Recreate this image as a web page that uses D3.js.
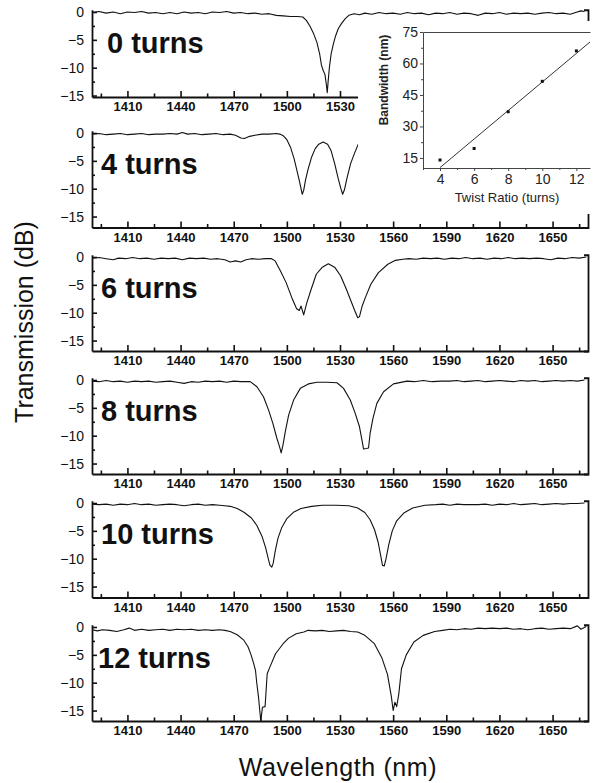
<!DOCTYPE html>
<html>
<head>
<meta charset="utf-8">
<script src="https://cdn.jsdelivr.net/npm/d3@7"></script>
<style>
  body { margin: 0; background: #fff; }
  svg { display: block; font-family: 'Liberation Sans', Arial, sans-serif; }
</style>
</head>
<body>
<svg id="chart" width="594" height="783"></svg>
<script>
// 1 Data
const turnLabels = ['0 turns', '4 turns', '6 turns', '8 turns', '10 turns', '12 turns'];

// [wavelength nm, transmission dB]
const spectrum0 = [[1390,-0.1],[1394,0.1],[1398,-0.2],[1402,0],[1406,-0.3],[1410,0],[1414,-0.1],[1418,0.1],[1422,-0.2],[1426,-0.1],[1430,-0.3],[1434,-0.1],[1438,-0.3],[1442,0],[1446,-0.2],[1450,-0.1],[1454,-0.3],[1458,0],[1462,-0.1],[1466,0.1],[1470,-0.2],[1474,-0.1],[1478,-0.3],[1482,-0.2],[1486,-0.4],[1490,-0.3],[1494,-0.6],[1498,-0.7],[1502,-0.8],[1506,-0.8],[1509,-0.9],[1511,-1.5],[1513,-2.5],[1515,-3.8],[1517,-5.5],[1518.5,-7.5],[1519.5,-9.5],[1520.5,-10.5],[1521.5,-11.2],[1522.3,-13],[1522.8,-14.5],[1523.3,-12.5],[1524,-10],[1525,-7.5],[1526.2,-5.8],[1527.5,-4.3],[1529,-3],[1531,-2],[1533,-1.2],[1535,-0.6],[1538,-0.3],[1541,-0.5],[1544,-0.2],[1548,-0.4],[1552,-0.1],[1556,-0.3],[1560,-0.2],[1564,-0.4],[1568,-0.1],[1572,-0.3],[1576,-0.2],[1580,-0.5],[1584,-0.2],[1588,-0.3],[1592,-0.1],[1596,-0.4],[1600,-0.2],[1604,-0.3],[1608,-0.6],[1612,-0.2],[1616,-0.3],[1620,-0.1],[1624,-0.4],[1628,-0.2],[1632,-0.3],[1636,-0.2],[1640,-0.4],[1644,-0.2],[1648,-0.1],[1652,-0.3],[1656,-0.2],[1660,-0.4],[1663,-0.1],[1666,0.2],[1668,0.1]];
const spectrum4 = [[1390,-0.2],[1394,-0.1],[1398,-0.3],[1402,-0.2],[1406,-0.1],[1410,-0.3],[1414,-0.2],[1418,-0.1],[1422,-0.3],[1426,-0.2],[1430,-0.2],[1434,-0.1],[1438,-0.2],[1441,0.1],[1444,-0.2],[1448,-0.1],[1452,-0.3],[1456,-0.2],[1460,-0.1],[1464,-0.3],[1468,-0.2],[1471,-0.4],[1474,-0.9],[1476,-1.0],[1479,-0.6],[1482,-0.4],[1486,-0.2],[1490,-0.2],[1494,-0.1],[1496,-0.2],[1498,-0.5],[1500,-1.2],[1502,-2.5],[1504,-4.5],[1505.5,-6.5],[1507,-8.5],[1508,-10],[1508.7,-11],[1509.5,-10.3],[1510.5,-8.5],[1512,-6.5],[1514,-4.3],[1516,-2.8],[1518,-2],[1520.5,-1.6],[1523,-2],[1525,-3.2],[1527,-5.5],[1529,-8.2],[1530.5,-10],[1531.5,-11],[1532.5,-10.2],[1534,-8],[1536,-5.5],[1538,-3.8],[1540.3,-2]];
const spectrum6 = [[1390,-0.2],[1394,-0.1],[1398,-0.3],[1402,-0.5],[1405,-0.2],[1409,-0.3],[1413,-0.1],[1417,-0.3],[1421,-0.2],[1425,-0.4],[1429,-0.2],[1433,-0.3],[1437,-0.2],[1441,-0.5],[1445,-0.2],[1449,-0.3],[1453,-0.2],[1457,-0.4],[1461,-0.3],[1465,-0.5],[1468,-0.9],[1471,-0.7],[1474,-0.9],[1477,-0.5],[1480,-0.3],[1484,-0.4],[1488,-0.3],[1491.3,-0.3],[1493.4,-0.7],[1496.4,-2.5],[1499.6,-4.6],[1502.8,-7.3],[1505.5,-9.3],[1507,-9.6],[1508,-8.8],[1509.5,-10.4],[1511.3,-8.2],[1513.4,-6.1],[1516.6,-3.1],[1519.8,-1.9],[1523.4,-1.2],[1527.2,-1.9],[1530.4,-3.4],[1533.6,-5.8],[1536.2,-7.9],[1538.3,-9.6],[1540,-10.9],[1541,-10.7],[1542.5,-8.8],[1544.3,-7.3],[1547.4,-4.9],[1551.7,-2.8],[1557,-1.3],[1561.3,-0.6],[1565.5,-0.4],[1569,-0.3],[1573,-0.4],[1577,-0.2],[1581,-0.3],[1585,-0.2],[1589,-0.4],[1593,-0.2],[1597,-0.3],[1601,-0.1],[1605,-0.3],[1609,-0.2],[1613,-0.4],[1617,-0.2],[1621,-0.3],[1625,-0.1],[1629,-0.3],[1633,-0.2],[1637,-0.3],[1641,-0.2],[1645,-0.3],[1649,-0.5],[1653,-0.2],[1657,-0.3],[1661,-0.1],[1665,-0.2],[1669,0]];
const spectrum8 = [[1390,-0.2],[1394,-0.3],[1398,-0.1],[1402,-0.3],[1406,-0.2],[1410,-0.4],[1414,-0.2],[1418,-0.3],[1422,-0.2],[1426,-0.4],[1430,-0.3],[1434,-0.2],[1438,-0.4],[1442,-0.6],[1446,-0.3],[1450,-0.4],[1454,-0.2],[1458,-0.3],[1462,-0.2],[1466,-0.4],[1470,-0.2],[1474,-0.3],[1479.3,-0.3],[1483.1,-1.2],[1486.8,-3],[1489.7,-5.4],[1492.1,-7.8],[1494.4,-10.5],[1495.9,-12],[1496.8,-13.1],[1497.8,-11.7],[1499.1,-9.3],[1501,-6.3],[1503.8,-3.6],[1507.6,-1.5],[1512.2,-0.7],[1517,-0.4],[1522.6,-0.4],[1528.3,-0.5],[1532,-1.5],[1535.8,-3.6],[1538.6,-6],[1541,-8.4],[1542.4,-10.8],[1543.3,-12.4],[1544.8,-12.3],[1546.1,-12.2],[1547,-9.6],[1548.6,-6.9],[1550.8,-4.2],[1554.6,-2.1],[1560.2,-0.7],[1567.8,-0.2],[1572,-0.3],[1577,-0.1],[1582,-0.3],[1587,-0.2],[1592,-0.2],[1596,-0.1],[1600,-0.3],[1604,-0.2],[1608,-0.1],[1612,-0.3],[1616,-0.2],[1620,-0.1],[1624,-0.2],[1628,-0.3],[1632,-0.1],[1636,-0.2],[1640,-0.1],[1644,-0.3],[1648,-0.2],[1652,-0.1],[1656,-0.2],[1660,-0.1],[1664,-0.2],[1668,0]];
const spectrum10 = [[1390,-0.2],[1394,-0.3],[1398,-0.2],[1402,-0.4],[1406,-0.2],[1410,-0.3],[1414,-0.1],[1418,-0.3],[1422,-0.2],[1426,-0.4],[1430,-0.3],[1434,-0.2],[1438,-0.3],[1442,-0.5],[1446,-0.3],[1450,-0.2],[1454,-0.4],[1458,-0.3],[1462,-0.4],[1465,-0.5],[1468,-0.6],[1472,-1],[1476,-1.7],[1480,-2.7],[1483,-4],[1486,-6],[1488,-8],[1489.5,-10],[1490.5,-11.2],[1491.5,-11.5],[1492.3,-10.8],[1493.5,-8.5],[1495,-6.3],[1497,-4.5],[1500,-2.8],[1504,-1.6],[1508,-1],[1514,-0.6],[1520,-0.4],[1528,-0.4],[1535,-0.5],[1540,-0.9],[1544,-1.7],[1547,-3],[1549.5,-4.8],[1551.5,-7],[1553,-9.5],[1554,-11.2],[1555,-11.3],[1556,-10],[1557.5,-7.5],[1559.5,-5],[1562,-3.2],[1566,-1.8],[1571,-0.9],[1578,-0.4],[1584,-0.3],[1588,-0.2],[1592,-0.4],[1596,-0.2],[1600,-0.3],[1604,-0.3],[1608,-0.3],[1612,-0.2],[1616,-0.4],[1620,-0.2],[1624,-0.3],[1628,-0.1],[1632,-0.3],[1636,-0.2],[1640,-0.1],[1644,-0.3],[1648,-0.2],[1652,-0.1],[1656,-0.2],[1660,-0.1],[1664,-0.1],[1668,0]];
const spectrum12 = [[1390,-0.5],[1393,-0.7],[1396,-0.5],[1400,-0.6],[1404,-0.8],[1408,-0.5],[1411,-0.2],[1414,-0.6],[1418,-0.4],[1422,-0.6],[1426,-0.5],[1430,-0.4],[1434,-0.6],[1438,-0.4],[1442,-0.5],[1446,-0.4],[1450,-0.6],[1454,-0.5],[1458,-0.6],[1462,-0.5],[1465,-0.6],[1468,-0.8],[1472,-1.4],[1475.5,-2.3],[1478,-3.5],[1479.8,-5],[1481.2,-6.5],[1482.3,-7.8],[1483,-10],[1484,-12.6],[1484.7,-15],[1485.3,-16.9],[1486.2,-14.4],[1487.7,-14.3],[1488.9,-8.4],[1490.4,-7.2],[1493.6,-4.8],[1497.9,-3],[1501,-2],[1505.3,-1.2],[1509.6,-0.9],[1512,-0.6],[1516,-0.7],[1520,-0.6],[1524,-0.8],[1528,-0.7],[1532,-0.6],[1536,-0.8],[1540,-0.9],[1544,-1.5],[1549.4,-3],[1553.6,-5.5],[1556.8,-8.5],[1559,-12.5],[1560,-15],[1561,-13.5],[1562,-14.3],[1563.2,-12],[1564.7,-7.5],[1567.4,-5],[1571.7,-2.7],[1577,-1.5],[1583.4,-0.8],[1588,-0.6],[1592,-0.4],[1596,-0.5],[1600,-0.3],[1604,-0.4],[1608,-0.2],[1612,-0.3],[1616,-0.2],[1620,-0.3],[1624,-0.2],[1628,-0.4],[1632,-0.3],[1636,-0.5],[1640,-0.3],[1644,-0.2],[1648,-0.4],[1652,-0.3],[1656,-0.2],[1660,-0.3],[1664,0.2],[1666,-0.4],[1669,0.1]];

const xTicks = [1410, 1440, 1470, 1500, 1530, 1560, 1590, 1620, 1650];
const xMinorTicks = [1395, 1425, 1455, 1485, 1515, 1545, 1575, 1605, 1635, 1665];
const yTicks = [0, -5, -10, -15];
const yMinorTicks = [-2.5, -7.5, -12.5];

// inset: bandwidth vs twist ratio
const twistRatio = [4, 6, 8, 10, 12];
const bandwidth = [14, 19.5, 37, 51.5, 66];
const insetXTicks = [4, 6, 8, 10, 12];
const insetXMinor = [3, 5, 7, 9, 11];
const insetYTicks = [15, 30, 45, 60, 75];
const insetYMinor = [22.5, 37.5, 52.5, 67.5];

// 2 Layout
const left = 92;
const right = 588;
const pxPerDb = 5.57;
const panels = [
  { label: turnLabels[0], data: spectrum0, zero: 12, bottom: 97, labelX: 107 },
  { label: turnLabels[1], data: spectrum4, zero: 133, bottom: 227.5, labelX: 101 },
  { label: turnLabels[2], data: spectrum6, zero: 257, bottom: 351, labelX: 101 },
  { label: turnLabels[3], data: spectrum8, zero: 380, bottom: 474, labelX: 101 },
  { label: turnLabels[4], data: spectrum10, zero: 503, bottom: 597.5, labelX: 101 },
  { label: turnLabels[5], data: spectrum12, zero: 627, bottom: 721, labelX: 98 },
];

const svg = d3.select('#chart');
const fontFamily = "'Liberation Sans', Arial, sans-serif";

const xScale = d3.scaleLinear().domain([1390, 1670]).range([left, right]);

// 3 Draw each spectrum panel
panels.forEach((p) => {
  const yMin = -(p.bottom - p.zero) / pxPerDb;
  const yScale = d3.scaleLinear()
    .domain([yMin, 0.4])
    .range([p.bottom, p.zero - 0.4 * pxPerDb]);

  const g = svg.append('g');

  const line = d3.line()
    .x((d) => xScale(d[0]))
    .y((d) => yScale(d[1]));

  g.append('path')
    .attr('d', line(p.data))
    .attr('fill', 'none')
    .attr('stroke', '#111')
    .attr('stroke-width', 1.1)
    .attr('stroke-linejoin', 'round');

  // bottom axis, inward ticks
  const xAxis = g.append('g')
    .attr('transform', `translate(0,${p.bottom})`)
    .call(d3.axisBottom(xScale).tickValues(xTicks).tickFormat(d3.format('d'))
      .tickSizeInner(-6).tickSizeOuter(0).tickPadding(5));
  xAxis.selectAll('text')
    .attr('font-size', 13).attr('font-weight', 'bold').attr('fill', '#111')
    .attr('font-family', fontFamily);
  g.append('g')
    .attr('transform', `translate(0,${p.bottom})`)
    .call(d3.axisBottom(xScale).tickValues(xMinorTicks).tickSizeInner(-3.5).tickSizeOuter(0).tickFormat(''))
    .select('.domain').remove();

  // left axis
  const yAxis = g.append('g')
    .attr('transform', `translate(${left},0)`)
    .call(d3.axisLeft(yScale).tickValues(yTicks).tickSizeInner(-5).tickSizeOuter(0).tickPadding(8));
  yAxis.selectAll('text')
    .attr('font-size', 14).attr('fill', '#111')
    .attr('font-family', fontFamily);
  g.append('g')
    .attr('transform', `translate(${left},0)`)
    .call(d3.axisLeft(yScale).tickValues(yMinorTicks).tickSizeInner(-3).tickSizeOuter(0).tickFormat(''))
    .select('.domain').remove();

  // right axis
  g.append('g')
    .attr('transform', `translate(${right},0)`)
    .call(d3.axisRight(yScale).tickValues([]).tickSizeOuter(-4));

  g.selectAll('.domain').attr('stroke', '#111').attr('stroke-width', 1.8);
  g.selectAll('.tick line').attr('stroke', '#111').attr('stroke-width', 1.6);

  g.append('text')
    .attr('x', p.labelX)
    .attr('y', yScale(-5.5))
    .attr('dominant-baseline', 'central')
    .attr('font-size', 29)
    .attr('font-weight', 'bold')
    .attr('fill', '#111')
    .text(p.label);
});

// 4 Axis titles
svg.append('text')
  .attr('transform', 'translate(33,322) rotate(-90)')
  .attr('text-anchor', 'middle')
  .attr('font-size', 25)
  .attr('fill', '#111')
  .text('Transmission (dB)');

svg.append('text')
  .attr('x', 338)
  .attr('y', 776)
  .attr('text-anchor', 'middle')
  .attr('font-size', 25)
  .attr('letter-spacing', 0.6)
  .attr('fill', '#111')
  .text('Wavelength (nm)');

// 5 Inset
svg.append('rect')
  .attr('x', 358).attr('y', 21)
  .attr('width', 236).attr('height', 193)
  .attr('fill', '#fff');

const ix = d3.scaleLinear().domain([3, 12.8]).range([423, 590]);
const iy = d3.scaleLinear().domain([10.2, 75]).range([168, 32]);
const inset = svg.append('g');

inset.append('g')
  .attr('transform', 'translate(0,168)')
  .call(d3.axisBottom(ix).tickValues(insetXTicks).tickSizeInner(3).tickSizeOuter(0).tickPadding(3));
inset.append('g')
  .attr('transform', 'translate(0,168)')
  .call(d3.axisBottom(ix).tickValues(insetXMinor).tickSizeInner(2).tickSizeOuter(0).tickFormat(''))
  .select('.domain').remove();
inset.append('g')
  .attr('transform', 'translate(423,0)')
  .call(d3.axisLeft(iy).tickValues(insetYTicks).tickSizeInner(3).tickSizeOuter(0).tickPadding(2));
inset.append('g')
  .attr('transform', 'translate(423,0)')
  .call(d3.axisLeft(iy).tickValues(insetYMinor).tickSizeInner(2).tickSizeOuter(0).tickFormat(''))
  .select('.domain').remove();
inset.append('g')
  .attr('transform', 'translate(0,32)')
  .call(d3.axisTop(ix).tickValues([]).tickSizeOuter(0));

inset.selectAll('.domain').attr('stroke', '#444').attr('stroke-width', 1);
inset.selectAll('.tick line').attr('stroke', '#444').attr('stroke-width', 1);
inset.selectAll('text')
  .attr('font-size', 14).attr('fill', '#222')
  .attr('font-family', fontFamily);

// least squares fit line
const mx = d3.mean(twistRatio);
const my = d3.mean(bandwidth);
const slope = d3.sum(twistRatio, (t, i) => (t - mx) * (bandwidth[i] - my)) /
  d3.sum(twistRatio, (t) => (t - mx) * (t - mx));
const fitAt = (t) => my + slope * (t - mx);
inset.append('line')
  .attr('x1', ix(4)).attr('y1', iy(fitAt(4)))
  .attr('x2', ix(12.8)).attr('y2', iy(fitAt(12.8)))
  .attr('stroke', '#333')
  .attr('stroke-width', 1);

inset.selectAll('rect.pt')
  .data(twistRatio)
  .join('rect')
  .attr('class', 'pt')
  .attr('x', (t) => ix(t) - 1.5)
  .attr('y', (t, i) => iy(bandwidth[i]) - 1.5)
  .attr('width', 3).attr('height', 3)
  .attr('fill', '#111');

inset.append('text')
  .attr('transform', 'translate(388,80) rotate(-90)')
  .attr('text-anchor', 'middle')
  .attr('font-size', 12)
  .attr('font-weight', 'bold')
  .attr('fill', '#222')
  .text('Bandwidth (nm)');

inset.append('text')
  .attr('x', 507)
  .attr('y', 202)
  .attr('text-anchor', 'middle')
  .attr('font-size', 13)
  .attr('fill', '#222')
  .text('Twist Ratio (turns)');
</script>
</body>
</html>
